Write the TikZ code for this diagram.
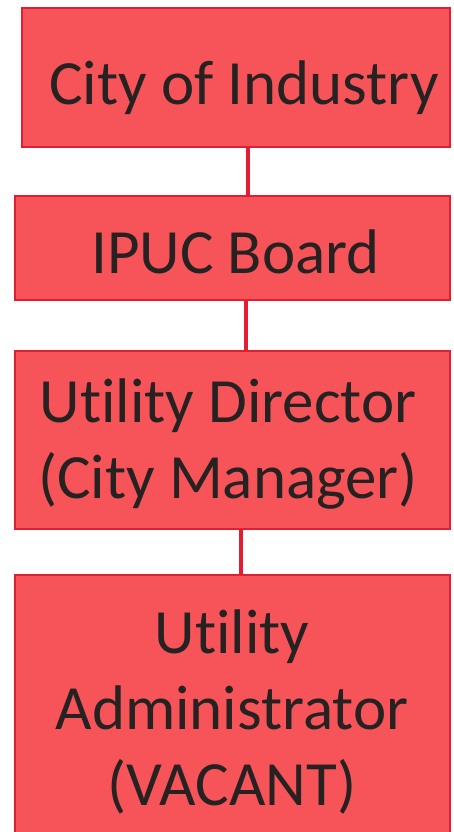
\documentclass[tikz,border=0pt]{standalone}
\usepackage{fontspec}
\setmainfont[Ligatures=NoCommon]{Carlito}
\usetikzlibrary{positioning}
\definecolor{unitred}{RGB}{247,84,90}
\definecolor{edgered}{RGB}{228,30,50}
\definecolor{inkgray}{RGB}{38,34,34}

\begin{document}
\begin{tikzpicture}[
    x=1pt, y=-1pt,
    unit/.style={rectangle, fill=unitred, draw=edgered, line width=2pt, inner sep=0pt},
    caption/.style={font=\fontsize{63}{76}\selectfont, text=inkgray, align=center, inner sep=0pt},
    link/.style={draw=edgered, line width=3.5pt}
]
    % Page frame
    \useasboundingbox (0,0) rectangle (454,832);

    % Boxes of the chain
    \node[unit, minimum width=428pt, minimum height=139pt] (city) at (236,77.5) {};
    \node[unit, minimum width=435pt, minimum height=104pt] (board) at (232.5,248) {};
    \node[unit, minimum width=435pt, minimum height=178pt] (director) at (232.5,440) {};
    \node[unit, minimum width=435pt, minimum height=262pt] (admin) at (232.5,706) {};

    % Texts in the boxes (base = last line)
    \node[caption, anchor=base] (citytext) at (244,105) {City of Industry};
    \node[caption, anchor=base] (boardtext) at (235.5,273) {IPUC Board};
    \node[caption, anchor=base] (directortext) at (228,498) {Utility Director\\(City Manager)};
    \node[caption, anchor=base] (admintext) at (232,805) {Utility\\Administrator\\(VACANT)};

    % Links between the boxes
    \draw[link] ([xshift=12pt]city.south) -- ([xshift=15.5pt]board.north);
    \draw[link] ([xshift=13.5pt]board.south) -- ([xshift=13.5pt]director.north);
    \draw[link] ([xshift=8.5pt]director.south) -- ([xshift=8.5pt]admin.north);

\end{tikzpicture}
\end{document}
